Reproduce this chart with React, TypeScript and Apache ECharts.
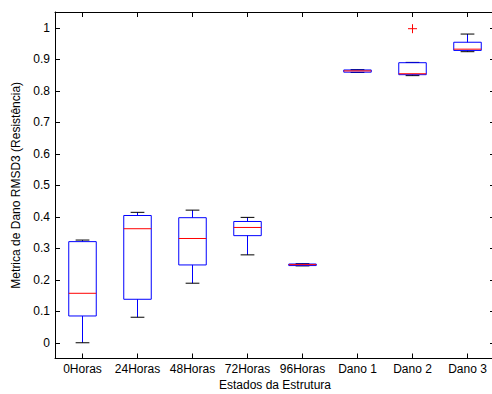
import React, { useEffect, useRef } from "react";
import * as echarts from "echarts";

const categories = ["0Horas", "24Horas", "48Horas", "72Horas", "96Horas", "Dano 1", "Dano 2", "Dano 3"];
const whiskerLow = [0.0, 0.081, 0.189, 0.279, 0.244, 0.858, 0.848, 0.924];
const q1 = [0.085, 0.138, 0.247, 0.340, 0.245, 0.859, 0.851, 0.928];
const median = [0.157, 0.362, 0.331, 0.366, 0.248, 0.863, 0.854, 0.932];
const q3 = [0.321, 0.404, 0.397, 0.385, 0.250, 0.866, 0.889, 0.954];
const whiskerHigh = [0.326, 0.414, 0.421, 0.398, 0.251, 0.867, 0.890, 0.980];
const outlierCategory = [6];
const outlierValue = [0.997];
const yTicks = [0, 0.1, 0.2, 0.3, 0.4, 0.5, 0.6, 0.7, 0.8, 0.9, 1];

const FONT = "Liberation Sans, Arial, Helvetica, sans-serif";

export default function App() {
  const ref = useRef<HTMLDivElement>(null);
  useEffect(() => {
    if (!ref.current) return;
    const chart = echarts.init(ref.current, undefined, { renderer: "svg" });
    const boxData = categories.map((_, i) => [i, whiskerLow[i], q1[i], median[i], q3[i], whiskerHigh[i]]);
    const outData = outlierCategory.map((c, i) => [c, outlierValue[i]]);
    const axisCommon = {
      axisLine: { show: true, onZero: false, lineStyle: { color: "#000", width: 1 } },
      axisTick: { show: true, inside: true, length: 5, lineStyle: { color: "#000" } },
      splitLine: { show: false },
    };
    chart.setOption({
      animation: false,
      backgroundColor: "#fff",
      grid: { left: 55, top: 12, width: 440, height: 346.5, containLabel: false, outerBoundsMode: "none" },
      xAxis: [
        {
          type: "category",
          data: categories,
          position: "bottom",
          ...axisCommon,
          axisTick: { ...axisCommon.axisTick, alignWithLabel: true, interval: 0 },
          axisLabel: { color: "#000", fontFamily: FONT, fontSize: 12, margin: 4, interval: 0, hideOverlap: false },
          name: "Estados da Estrutura",
          nameLocation: "middle",
          nameGap: 19,
          nameTextStyle: { color: "#000", fontFamily: FONT, fontSize: 12 },
        },
        {
          type: "category",
          data: categories,
          position: "top",
          ...axisCommon,
          axisTick: { ...axisCommon.axisTick, alignWithLabel: true, interval: 0 },
          axisLabel: { show: false },
        },
      ],
      yAxis: [
        {
          type: "value",
          min: -0.05,
          max: 1.05,
          position: "left",
          ...axisCommon,
          axisTick: { ...axisCommon.axisTick, customValues: yTicks },
          axisLabel: {
            color: "#000",
            fontFamily: FONT,
            fontSize: 12,
            margin: 5,
            customValues: yTicks,
            formatter: (v: number) => String(Math.round(v * 10) / 10),
          },
          name: "Metrica de Dano RMSD3 (Resistência)",
          nameLocation: "middle",
          nameGap: 29,
          nameTextStyle: { color: "#000", fontFamily: FONT, fontSize: 12 },
        },
        {
          type: "value",
          min: -0.05,
          max: 1.05,
          position: "right",
          ...axisCommon,
          axisTick: { ...axisCommon.axisTick, customValues: yTicks },
          axisLabel: { show: false },
        },
      ],
      series: [
        {
          type: "custom",
          xAxisIndex: 0,
          yAxisIndex: 0,
          data: boxData,
          renderItem: (params: any, api: any) => {
            const idx = api.value(0);
            const band = api.size([1, 0])[0];
            const half = band * 0.25;
            const capHalf = band * 0.125;
            const pLow = api.coord([idx, api.value(1)]);
            const pQ1 = api.coord([idx, api.value(2)]);
            const pMed = api.coord([idx, api.value(3)]);
            const pQ3 = api.coord([idx, api.value(4)]);
            const pHigh = api.coord([idx, api.value(5)]);
            const cx = pMed[0];
            const blue = { stroke: "#0000ff", lineWidth: 1, fill: "none" };
            return {
              type: "group",
              children: [
                { type: "line", shape: { x1: cx, y1: pQ3[1], x2: cx, y2: pHigh[1] }, style: blue },
                { type: "line", shape: { x1: cx, y1: pQ1[1], x2: cx, y2: pLow[1] }, style: blue },
                { type: "line", shape: { x1: cx - capHalf, y1: pHigh[1], x2: cx + capHalf, y2: pHigh[1] }, style: { stroke: "#000", lineWidth: 1 } },
                { type: "line", shape: { x1: cx - capHalf, y1: pLow[1], x2: cx + capHalf, y2: pLow[1] }, style: { stroke: "#000", lineWidth: 1 } },
                { type: "rect", shape: { x: cx - half, y: pQ3[1], width: half * 2, height: pQ1[1] - pQ3[1] }, style: blue },
                { type: "line", shape: { x1: cx - half, y1: pMed[1], x2: cx + half, y2: pMed[1] }, style: { stroke: "#ff0000", lineWidth: 1 } },
              ],
            };
          },
        },
        {
          type: "custom",
          xAxisIndex: 0,
          yAxisIndex: 0,
          data: outData,
          renderItem: (params: any, api: any) => {
            const p = api.coord([api.value(0), api.value(1)]);
            const r = 4.5;
            const st = { stroke: "#ff0000", lineWidth: 1 };
            return {
              type: "group",
              children: [
                { type: "line", shape: { x1: p[0] - r, y1: p[1], x2: p[0] + r, y2: p[1] }, style: st },
                { type: "line", shape: { x1: p[0], y1: p[1] - r, x2: p[0], y2: p[1] + r }, style: st },
              ],
            };
          },
        },
      ],
    });
    return () => chart.dispose();
  }, []);
  return <div ref={ref} style={{ position: "absolute", left: 0, top: 0, width: 492, height: 394 }} />;
}
